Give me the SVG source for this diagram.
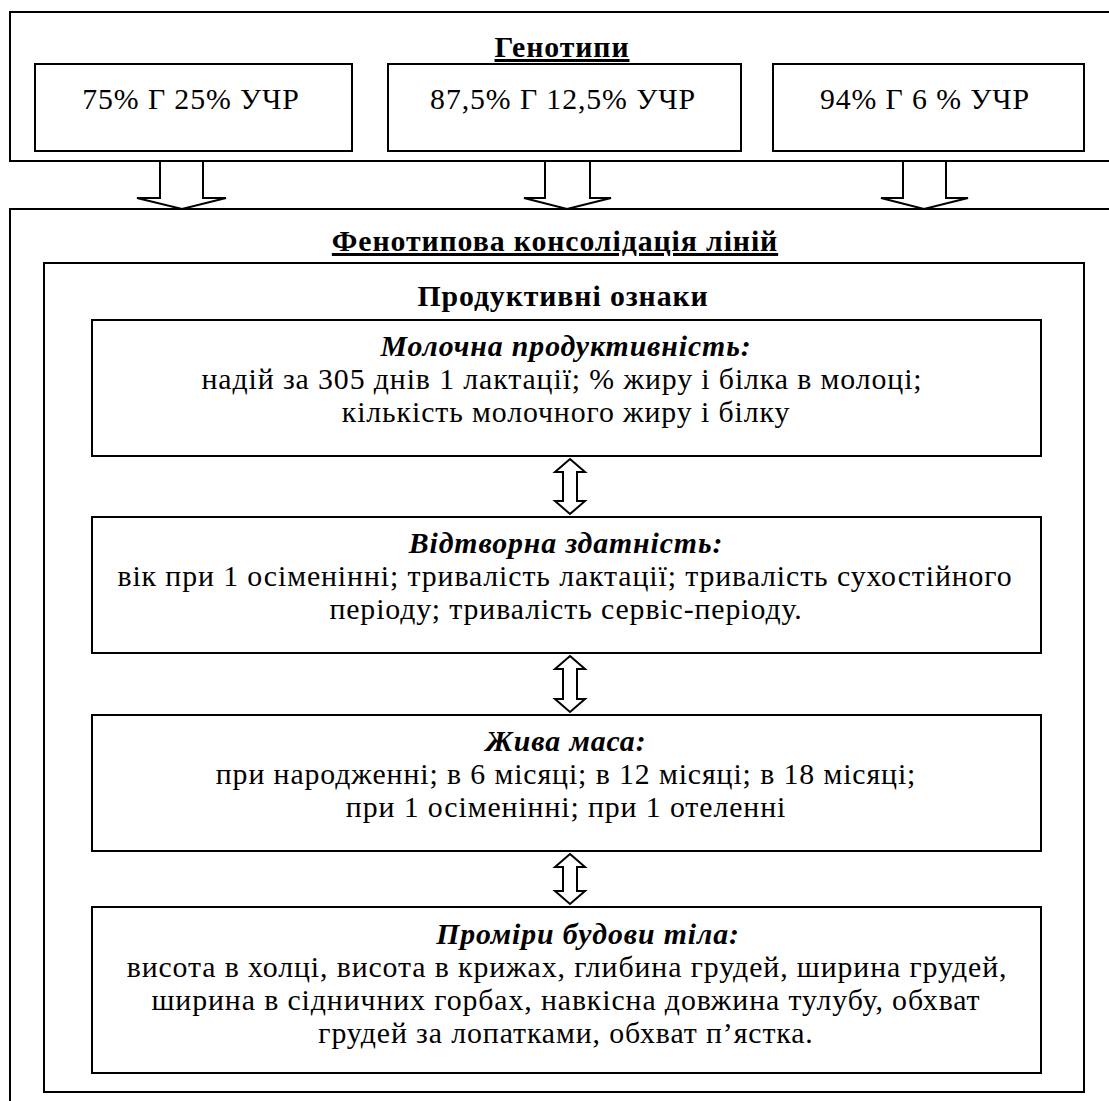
<svg xmlns="http://www.w3.org/2000/svg" width="1109" height="1101" viewBox="0 0 1109 1101">
<style>
.bx{fill:#fff;stroke:#000;stroke-width:2}
.ar{fill:#fff;stroke:#000;stroke-width:2;stroke-linejoin:miter}
text{font-family:"Times New Roman",serif;font-size:29.8px;letter-spacing:0.9px;fill:#000;text-anchor:middle}
.b{font-weight:bold}
.bi{font-weight:bold;font-style:italic}
.u{text-decoration:underline}
</style>
<g id="genotypes">
<rect class="bx" x="10" y="12" width="1110" height="149"/>
<text class="b u" x="562" y="57">Генотипи</text>
</g>
<g id="g75">
<rect class="bx" x="35" y="64" width="317" height="87"/>
<text x="191" y="109">75% Г 25% УЧР</text>
</g>
<g id="g87">
<rect class="bx" x="388" y="64" width="353" height="87"/>
<text x="563" y="109">87,5% Г 12,5% УЧР</text>
</g>
<g id="g94">
<rect class="bx" x="773" y="64" width="311" height="87"/>
<text x="925" y="109">94% Г 6 % УЧР</text>
</g>
<g id="consolidation">
<rect class="bx" x="10" y="209" width="1110" height="920"/>
<text class="b u" x="555" y="251">Фенотипова консолідація ліній</text>
</g>
<g id="productive">
<rect class="bx" x="44" y="263" width="1040" height="829"/>
<text class="b" x="563" y="306">Продуктивні ознаки</text>
</g>
<g id="milk">
<rect class="bx" x="92" y="320" width="949" height="136"/>
<text><tspan class="bi" x="566" y="356">Молочна продуктивність:</tspan><tspan x="562" y="389">надій за 305 днів 1 лактації; % жиру і білка в молоці;</tspan><tspan x="566" y="422">кількість молочного жиру і білку</tspan></text>
</g>
<g id="repro">
<rect class="bx" x="92" y="517" width="949" height="136"/>
<text><tspan class="bi" x="566" y="553">Відтворна здатність:</tspan><tspan x="565" y="586">вік при 1 осіменінні; тривалість лактації; тривалість сухостійного</tspan><tspan x="566" y="619">періоду; тривалість сервіс-періоду.</tspan></text>
</g>
<g id="weight">
<rect class="bx" x="92" y="715" width="949" height="136"/>
<text><tspan class="bi" x="566" y="751">Жива маса:</tspan><tspan x="566" y="784">при народженні; в 6 місяці; в 12 місяці; в 18 місяці;</tspan><tspan x="566" y="817">при 1 осіменінні; при 1 отеленні</tspan></text>
</g>
<g id="body">
<rect class="bx" x="92" y="907" width="949" height="166"/>
<text><tspan class="bi" x="588" y="944">Проміри будови тіла:</tspan><tspan x="567" y="977">висота в холці, висота в крижах, глибина грудей, ширина грудей,</tspan><tspan x="566" y="1010">ширина в сідничних горбах, навкісна довжина тулубу, обхват</tspan><tspan x="566" y="1043">грудей за лопатками, обхват п’ястка.</tspan></text>
</g>
<g id="connectors">
<polygon class="ar" points="160,161 160,198 137,198 182,209 226,198 203,198 203,161"/>
<polygon class="ar" points="545,161 545,198 524,198 567,209 611,198 590,198 590,161"/>
<polygon class="ar" points="903,161 903,198 881,198 924,209 968,198 946,198 946,161"/>
<polygon class="ar" points="570,459 585,472 577,472 577,501 585,501 570,514 555,501 563,501 563,472 555,472"/>
<polygon class="ar" points="570,656 585,669 577,669 577,699 585,699 570,712 555,699 563,699 563,669 555,669"/>
<polygon class="ar" points="570,854 585,867 577,867 577,891 585,891 570,904 555,891 563,891 563,867 555,867"/>
</g>
</svg>
